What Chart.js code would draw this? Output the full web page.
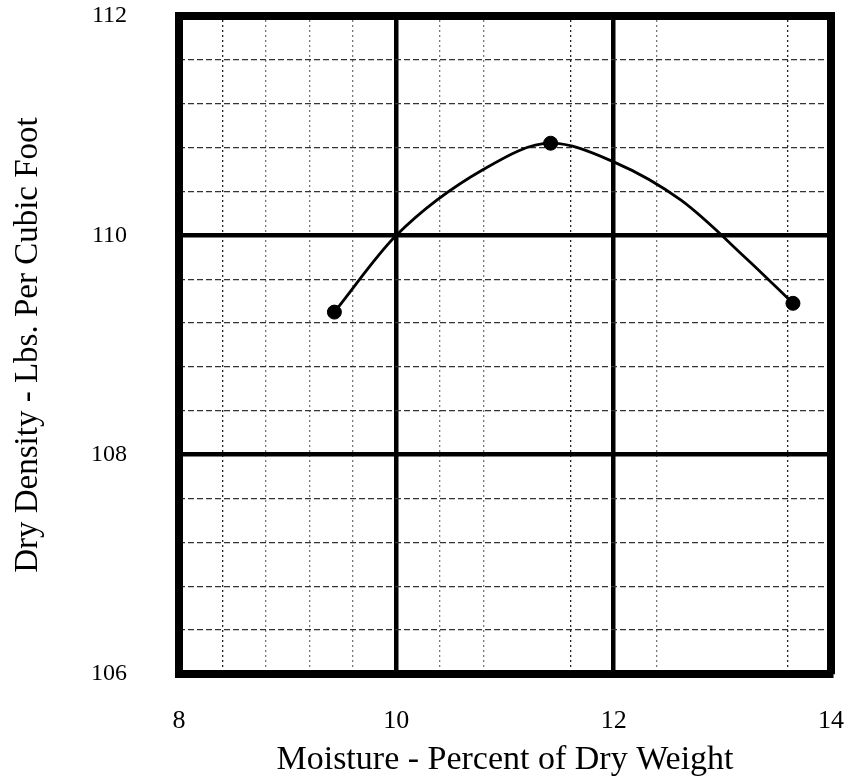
<!DOCTYPE html>
<html>
<head>
<meta charset="utf-8">
<script src="https://cdn.jsdelivr.net/npm/chart.js@4.4.1/dist/chart.umd.min.js"></script>
<style>
  body { margin: 0; background: #fff; }
  canvas { display: block; }
</style>
</head>
<body>
<canvas id="chart" width="852" height="780"></canvas>
<script>
// Test points (moisture %, dry density)
const testMoisture = [9.43, 11.42, 13.65];
const testDensity = [109.30, 110.84, 109.38];

// Compaction curve as drawn
const curveMoisture = [9.43, 10.0, 10.8, 11.42, 12.0, 12.62, 13.23, 13.65];
const curveDensity = [109.30, 110.00, 110.60, 110.84, 110.67, 110.32, 109.78, 109.38];

// Axis ranges and ticks
const xMin = 8, xMax = 14, xMajor = 2, xMinor = 0.4;
const yMin = 106, yMax = 112, yMajor = 2, yMinor = 0.4;

// Minor vertical lines: strong, faint or missing on the sheet
const strongMinorX = [8.4, 11.6, 13.6];
const missingMinorX = [11.2, 12.8, 13.2];

const serif = "'Liberation Serif', 'DejaVu Serif', serif";
const clear = 'rgba(0,0,0,0)';

function near(v, list) {
    return list.some(a => Math.abs(a - v) < 0.05);
}
function isMajor(v, step) {
    return Math.abs(v / step - Math.round(v / step)) < 0.01;
}

// Fixed size for the axes so the plot box sits where the sheet has it
const fixSize = (w, h) => scale => {
    if (w !== null) scale.width = w;
    if (h !== null) scale.height = h;
};

const ctx = document.getElementById('chart').getContext('2d');
new Chart(ctx, {
    type: 'line',
    data: {
        datasets: [
            {
                label: 'curve',
                data: curveMoisture.map((x, i) => ({ x, y: curveDensity[i] })),
                borderColor: '#000',
                borderWidth: 2.8,
                pointRadius: 0,
                cubicInterpolationMode: 'monotone',
                fill: false
            },
            {
                type: 'scatter',
                label: 'tests',
                data: testMoisture.map((x, i) => ({ x, y: testDensity[i] })),
                backgroundColor: '#000',
                borderColor: '#000',
                pointRadius: 7
            }
        ]
    },
    options: {
        responsive: false,
        animation: false,
        layout: { padding: { left: 0, right: 21, top: 16, bottom: 0 } },
        plugins: { legend: { display: false }, tooltip: { enabled: false } },
        scales: {
            x: {
                type: 'linear',
                position: 'bottom',
                min: xMin, max: xMax,
                afterFit: fixSize(null, 106),
                ticks: {
                    stepSize: xMajor,
                    padding: 0,
                    color: '#000',
                    font: { family: serif, size: 26 }
                },
                grid: {
                    drawTicks: true,
                    tickLength: 32,
                    tickColor: clear,
                    lineWidth: 4.5,
                    color: c => (c.tick && (c.tick.value === xMin || c.tick.value === xMax)) ? clear : '#000'
                },
                border: { display: true, color: '#000', width: 8 },
                title: {
                    display: true,
                    text: 'Moisture - Percent of Dry Weight',
                    color: '#000',
                    font: { family: serif, size: 34 },
                    padding: { top: 0, bottom: 0 }
                }
            },
            xMinor: {
                type: 'linear',
                position: 'top',
                min: xMin, max: xMax,
                afterFit: fixSize(null, 0),
                ticks: { display: false, stepSize: xMinor, padding: 0 },
                grid: {
                    drawTicks: false,
                    lineWidth: 1.3,
                    color: c => {
                        const v = c.tick ? c.tick.value : 0;
                        if (isMajor(v, xMajor) || near(v, missingMinorX)) return clear;
                        return near(v, strongMinorX) ? '#222' : '#777';
                    }
                },
                border: { display: true, color: '#000', width: 8, dash: [2, 3] }
            },
            y: {
                type: 'linear',
                position: 'left',
                min: yMin, max: yMax,
                afterFit: fixSize(179, null),
                ticks: {
                    stepSize: yMajor,
                    padding: 0,
                    color: '#000',
                    font: { family: serif, size: 24 }
                },
                grid: {
                    drawTicks: true,
                    tickLength: 52,
                    tickColor: clear,
                    lineWidth: 4.5,
                    color: c => (c.tick && (c.tick.value === yMin || c.tick.value === yMax)) ? clear : '#000'
                },
                border: { display: true, color: '#000', width: 8 },
                title: {
                    display: true,
                    text: 'Dry Density - Lbs. Per Cubic Foot',
                    color: '#000',
                    font: { family: serif, size: 33 },
                    padding: { top: 9, bottom: 0 }
                }
            },
            yMinor: {
                type: 'linear',
                position: 'right',
                min: yMin, max: yMax,
                afterFit: fixSize(0, null),
                ticks: { display: false, stepSize: yMinor, padding: 0 },
                grid: {
                    drawTicks: false,
                    lineWidth: 1.3,
                    color: c => (c.tick && isMajor(c.tick.value, yMajor)) ? clear : '#333'
                },
                border: { display: true, color: '#000', width: 8, dash: [6, 3] }
            }
        }
    }
});
</script>
</body>
</html>
